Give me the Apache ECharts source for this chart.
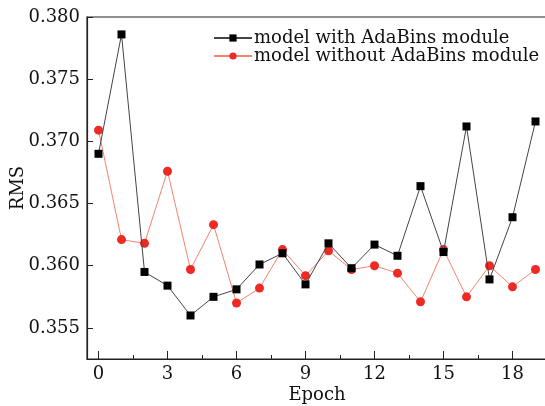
<!DOCTYPE html>
<html><head><meta charset="utf-8">
<script src="https://cdn.jsdelivr.net/npm/echarts@6/dist/echarts.min.js"></script>
<style>html,body{margin:0;padding:0;background:#fff}#c{width:545px;height:406px}</style>
</head><body><div id="c"></div>
<script>
const epochs = [0,1,2,3,4,5,6,7,8,9,10,11,12,13,14,15,16,17,18,19];
const withAdaBins = [0.3690,0.3786,0.3595,0.3584,0.3560,0.3575,0.3581,0.3601,0.3610,0.3585,0.3618,0.3598,0.3617,0.3608,0.3664,0.3611,0.3712,0.3589,0.3639,0.3716];
const withoutAdaBins = [0.3709,0.3621,0.3618,0.3676,0.3597,0.3633,0.3570,0.3582,0.3613,0.3592,0.3612,0.3597,0.3600,0.3594,0.3571,0.3613,0.3575,0.3600,0.3583,0.3597];
const xTicks = [0,3,6,9,12,15,18];
const xMinorTicks = [1.5,4.5,7.5,10.5,13.5,16.5];
const yTicks = [0.355,0.360,0.365,0.370,0.375,0.380];
const seriesNames = ['model with AdaBins module','model without AdaBins module'];

const font = 'DejaVu Serif';
const chart = echarts.init(document.getElementById('c'));
const pair = (arr) => epochs.map((e,i) => [e, arr[i]]);
chart.setOption({
  animation: false,
  grid: {left: 87, top: 17, width: 460, height: 342, show: true, borderColor: '#222', borderWidth: 1.2,
    containLabel: false, outerBoundsMode: 'none'},
  legend: {
    orient: 'vertical', left: 208, top: 24, itemWidth: 38, itemHeight: 9, itemGap: 0,
    textStyle: {fontFamily: font, fontSize: 18, color: '#111', padding: [0,0,0,-3]},
    data: seriesNames
  },
  xAxis: [{
    type: 'value', min: -0.5, max: 19.5,
    name: 'Epoch', nameLocation: 'middle', nameGap: 27, nameMoveOverlap: false,
    nameTextStyle: {fontFamily: font, fontSize: 18, color: '#111'},
    axisLine: {onZero: false, lineStyle: {color: '#222', width: 1.2}},
    axisTick: {inside: true, length: 8, customValues: xTicks, lineStyle: {color: '#222'}},
    axisLabel: {customValues: xTicks, fontFamily: font, fontSize: 18, color: '#111', margin: 6},
    splitLine: {show: false}
  },{
    type: 'value', min: -0.5, max: 19.5, position: 'bottom',
    axisLine: {show: false, onZero: false},
    axisTick: {inside: true, length: 4, customValues: xMinorTicks, lineStyle: {color: '#222'}},
    axisLabel: {show: false, customValues: xMinorTicks},
    splitLine: {show: false}
  }],
  yAxis: {
    type: 'value', min: 0.3525, max: 0.380,
    name: 'RMS', nameLocation: 'middle', nameGap: 60, nameRotate: 90, nameMoveOverlap: false,
    nameTextStyle: {fontFamily: font, fontSize: 18, color: '#111'},
    axisLine: {show: true, onZero: false, lineStyle: {color: '#222', width: 1.2}},
    axisTick: {show: true, inside: true, length: 6, customValues: yTicks, lineStyle: {color: '#222'}},
    axisLabel: {customValues: yTicks, fontFamily: font, fontSize: 18, color: '#111', margin: 7,
      formatter: v => v.toFixed(3)},
    splitLine: {show: false}
  },
  series: [{
    name: seriesNames[0], type: 'line', data: pair(withAdaBins),
    symbol: 'rect', symbolSize: 8,
    itemStyle: {color: '#000'}, lineStyle: {color: '#444', width: 1}, z: 3
  },{
    name: seriesNames[1], type: 'line', data: pair(withoutAdaBins),
    symbol: 'circle', symbolSize: 9,
    itemStyle: {color: '#ee2a24'}, lineStyle: {color: '#f4826c', width: 1}, z: 2
  }]
});
</script></body></html>
